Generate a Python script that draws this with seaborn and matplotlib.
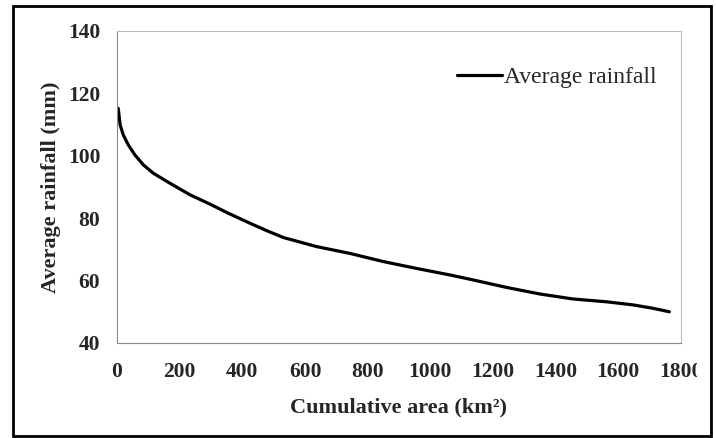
import matplotlib
matplotlib.use("Agg")
import matplotlib.pyplot as plt
import seaborn as sns
import pandas as pd
from matplotlib.patches import Rectangle
from matplotlib.transforms import Bbox

# values
area_km2 = [4, 10, 20, 36, 57, 84, 116, 169, 233, 297, 355, 424, 478, 531,
            637, 744, 850, 956, 1063, 1137, 1244, 1350, 1456, 1563, 1648,
            1712, 1763]
rain_mm = [115.2, 109.9, 106.7, 103.5, 100.3, 97.1, 94.4, 91.2, 87.5, 84.5,
           81.6, 78.4, 76.0, 73.8, 70.9, 68.7, 66.1, 63.9, 61.8, 60.2, 57.8,
           55.7, 54.1, 53.2, 52.2, 51.1, 50.0]
x_ticks = [0, 200, 400, 600, 800, 1000, 1200, 1400, 1600, 1800]
y_ticks = [40, 60, 80, 100, 120, 140]

df = pd.DataFrame({"area": area_km2, "rain": rain_mm})

sns.set_style("white")
plt.rcParams["font.family"] = ["Liberation Serif", "DejaVu Serif"]

fig = plt.figure(figsize=(7.16, 4.38), dpi=100)
ax = fig.add_axes([117 / 716, 1 - 343 / 438, (681 - 117) / 716, (343 - 31) / 438])

sns.lineplot(data=df, x="area", y="rain", ax=ax, color="black",
             linewidth=2.3, label="Average rainfall")

ax.set_xlim(0, 1800)
ax.set_ylim(40, 140)
ax.set_xticks(x_ticks)
ax.set_yticks(y_ticks)
ax.tick_params(axis="both", direction="out", length=5, width=0.8,
               color="#888888", labelsize=15.5)
ax.tick_params(axis="x", pad=9)
ax.tick_params(axis="y", pad=7)
for lab in ax.get_xticklabels() + ax.get_yticklabels():
    lab.set_fontweight("bold")

for side in ["left", "bottom"]:
    ax.spines[side].set_color("#888888")
    ax.spines[side].set_linewidth(0.8)
for side in ["top", "right"]:
    ax.spines[side].set_visible(True)
    ax.spines[side].set_color("#bbbbbb")
    ax.spines[side].set_linewidth(0.8)

ax.set_xlabel("Cumulative area (km²)", fontsize=16, fontweight="bold",
              labelpad=11)
ax.set_ylabel("Average rainfall (mm)", fontsize=16, fontweight="bold",
              labelpad=5)

ax.legend(loc="upper right", bbox_to_anchor=(0.995, 0.955), frameon=False,
          fontsize=17, handlelength=1.9, handletextpad=0.1)

# the original cuts the last tick label at the frame
clip = Bbox.from_extents(0, 0, 697, 438)
for lab in ax.get_xticklabels():
    lab.set_clip_box(clip)
    lab.set_clip_on(True)

# outer frame around the whole figure
fig.patches.append(Rectangle((13 / 716, 2 / 438), 698 / 716, 430 / 438,
                             transform=fig.transFigure, fill=False,
                             edgecolor="black", linewidth=2))

fig.savefig("out.png", dpi=100)
